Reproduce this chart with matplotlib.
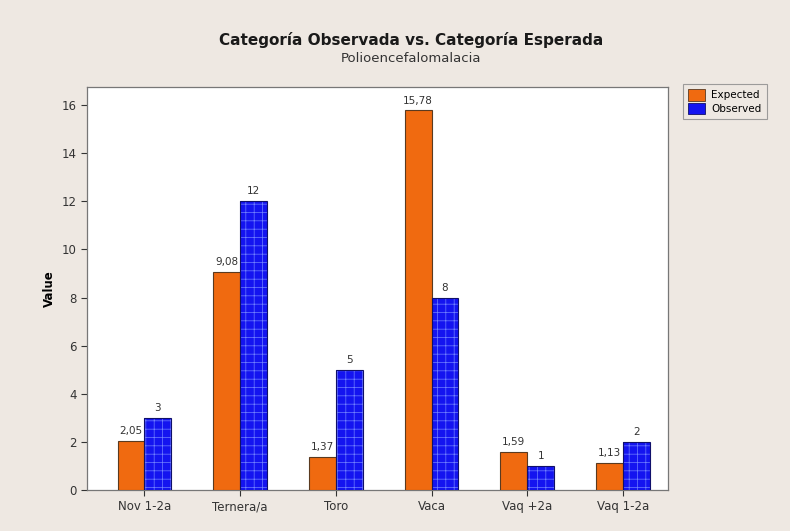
import matplotlib.pyplot as plt
import numpy as np

# Data
categories = ['Nov 1-2a', 'Ternera/a', 'Toro', 'Vaca', 'Vaq +2a', 'Vaq 1-2a']
expected = [2.05, 9.08, 1.37, 15.78, 1.59, 1.13]
observed = [3, 12, 5, 8, 1, 2]
expected_labels = ['2,05', '9,08', '1,37', '15,78', '1,59', '1,13']
observed_labels = ['3', '12', '5', '8', '1', '2']

bg = '#eee8e2'
orange = '#f06a10'
blue = '#1414f0'

fig = plt.figure(figsize=(7.9, 5.31), dpi=100, facecolor=bg)
ax = fig.add_axes([87 / 790, 1 - 490 / 531, 581 / 790, 403 / 531])
ax.set_facecolor('white')

x = np.arange(len(categories))
w = 0.28
ax.bar(x - w / 2, expected, w, color=orange, edgecolor='#5a3a20', linewidth=0.8, zorder=3)
# observed bars with a light grid hatch, then a dark outline on top
plt.rcParams['hatch.linewidth'] = 0.5
ax.bar(x + w / 2, observed, w, color=blue, edgecolor='#7080ff', linewidth=0, hatch='++', zorder=3)
ax.bar(x + w / 2, observed, w, fill=False, edgecolor='#10106a', linewidth=0.8, zorder=4)

for i in range(len(categories)):
    ax.text(x[i] - w / 2, expected[i] + 0.2, expected_labels[i], ha='center', va='bottom', fontsize=7.5, color='#333333')
    ax.text(x[i] + w / 2, observed[i] + 0.2, observed_labels[i], ha='center', va='bottom', fontsize=7.5, color='#333333')

ax.set_xlim(-0.6, 5.47)
ax.set_ylim(0, 16.75)
ax.set_yticks(np.arange(0, 17, 2))
ax.set_xticks(x)
ax.set_xticklabels(categories)
ax.tick_params(axis='both', labelsize=8.5, colors='#333333', direction='out', length=4, width=0.8)
ax.set_ylabel('Value', fontsize=8.5, fontweight='bold', labelpad=4)
for s in ax.spines.values():
    s.set_color('#777777')
    s.set_linewidth(0.9)

fig.text(411 / 790, 1 - 40 / 531, 'Categoría Observada vs. Categoría Esperada', ha='center', va='center',
         fontsize=11, fontweight='bold', color='#1a1a1a')
fig.text(411 / 790, 1 - 58 / 531, 'Polioencefalomalacia', ha='center', va='center', fontsize=9.5, color='#333333')

handles = [plt.Rectangle((0, 0), 1, 1, facecolor=orange, edgecolor='#5a3a20', linewidth=0.6),
           plt.Rectangle((0, 0), 1, 1, facecolor=blue, edgecolor='#10106a', linewidth=0.6)]
leg = fig.legend(handles, ['Expected', 'Observed'], loc='upper left', bbox_to_anchor=(683 / 790, 1 - 84 / 531),
                 fontsize=7.5, frameon=True, fancybox=False, handlelength=1.6, handleheight=1.3,
                 borderpad=0.5, labelspacing=0.2, handletextpad=0.6, borderaxespad=0)
leg.get_frame().set_edgecolor('#888888')
leg.get_frame().set_facecolor(bg)
leg.get_frame().set_linewidth(0.8)

plt.savefig('out.png', dpi=100, facecolor=bg)
plt.close()
